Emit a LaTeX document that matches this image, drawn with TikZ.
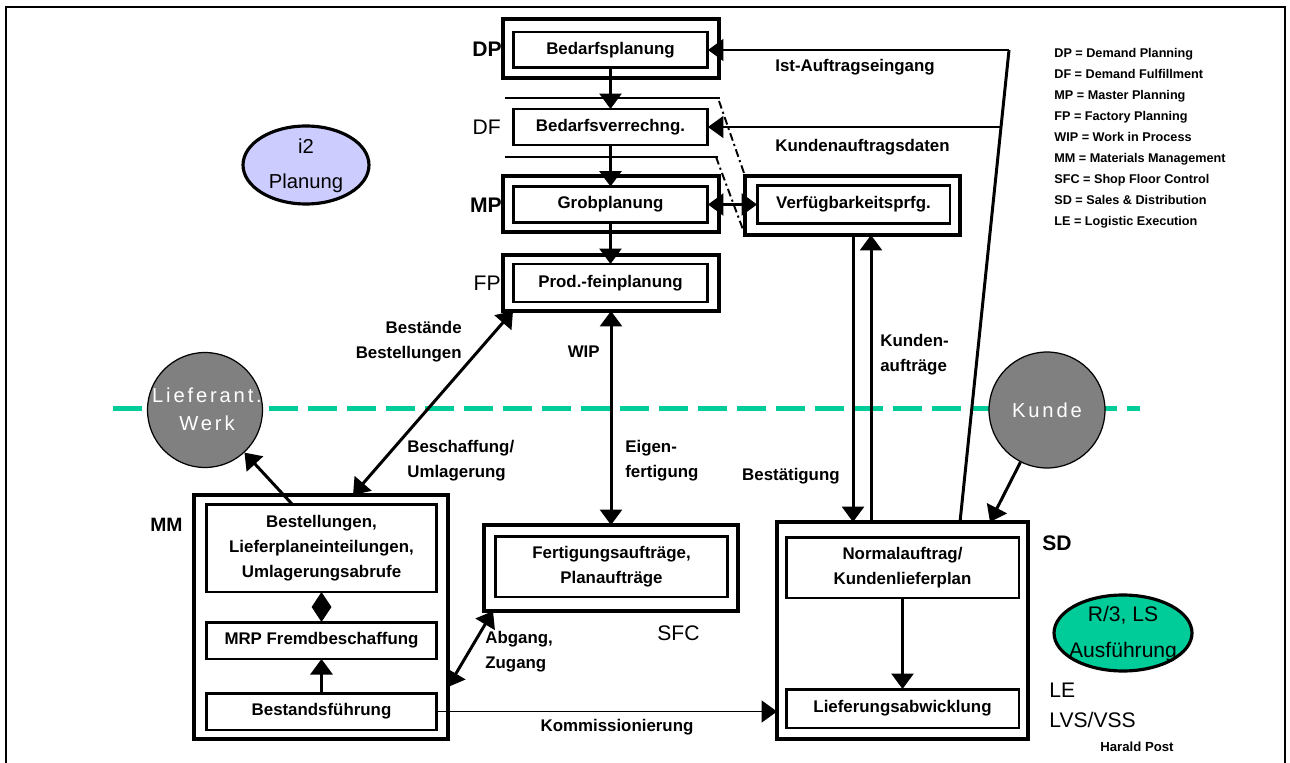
\documentclass[tikz,border=0pt]{standalone}
\usepackage{fontspec}
\setmainfont{Liberation Sans}
\newfontfamily\spacedfont[LetterSpace=14]{Liberation Sans}
\usetikzlibrary{arrows.meta,shapes.geometric,calc}
\definecolor{septeal}{RGB}{0,204,153}
\definecolor{planlav}{RGB}{204,204,255}
\definecolor{partnergray}{RGB}{128,128,128}
\newcommand\bxfont{\fontsize{9.6}{14.2}\selectfont\bfseries}
\newcommand\tagbold{\fontsize{12}{14}\selectfont\bfseries}
\newcommand\tagreg{\fontsize{12}{14}\selectfont}
\newcommand\ovalfont{\fontsize{11.5}{20}\selectfont}
\begin{document}
\begin{tikzpicture}[x=0.02cm,y=-0.02cm,
  outerbox/.style={draw, line width=1.8pt, inner sep=0pt, outer sep=0pt},
  innerbox/.style={draw, line width=1.7pt, inner sep=0pt, outer sep=0pt,
    font=\bxfont, align=center},
  conn/.style={line width=1.7pt},
  thinline/.style={line width=1.1pt},
  tip/.style={-{Triangle[length=0.31cm,width=0.44cm]}},
  tiptwo/.style={{Triangle[length=0.31cm,width=0.44cm]}-{Triangle[length=0.31cm,width=0.44cm]}},
  tipdia/.style={{Triangle[length=0.3cm,width=0.38cm]}-{Triangle[length=0.3cm,width=0.38cm]}},
  dashdot/.style={line width=1.1pt, dash pattern=on 4.5pt off 2pt on 1.2pt off 2pt},
  lbl/.style={inner sep=0pt, font=\bxfont},
  legend/.style={inner sep=0pt, font=\fontsize{7.2}{9}\selectfont\bfseries},
  partner/.style={circle, draw, line width=0.7pt, fill=partnergray, inner sep=0pt},
  partnertext/.style={inner sep=0pt, text=white, align=center,
    font=\spacedfont\fontsize{11.5}{16}\selectfont},
  sysoval/.style={ellipse, draw, line width=1.8pt, inner sep=0pt}
]
\useasboundingbox (0,0) rectangle (1290,763);

% page frame
\draw[line width=1.1pt] (6,763) -- (6,7) -- (1285,7) -- (1285,763);

% system boundary
\draw[septeal, line width=0.1cm, dash pattern=on 0.58cm off 0.2cm] (113,408) -- (1140,408);

% ---------- planning column ----------
\node[outerbox, minimum width=4.32cm, minimum height=1.18cm] (dpo) at (611,48.5) {};
\node[innerbox, minimum width=3.9cm, minimum height=0.72cm] (dp) at (610.5,50) {Bedarfsplanung};

\draw[thinline] (505,98) -- (720,98);
\draw[thinline] (505,157) -- (718,157);
\node[innerbox, minimum width=3.9cm, minimum height=0.72cm] (df) at (610.5,127) {Bedarfsverrechng.};

\node[outerbox, minimum width=4.32cm, minimum height=1.12cm] (mpo) at (611,204) {};
\node[innerbox, minimum width=3.9cm, minimum height=0.72cm] (mp) at (610.5,204.5) {Grobplanung};

\node[outerbox, minimum width=4.32cm, minimum height=1.12cm] (fpo) at (611,283) {};
\node[innerbox, minimum width=3.9cm, minimum height=0.76cm] (fp) at (610.5,283) {Prod.-feinplanung};

\node[outerbox, minimum width=4.3cm, minimum height=1.18cm] (vo) at (852.5,205.5) {};
\node[innerbox, minimum width=3.86cm, minimum height=0.76cm] (vf) at (853.5,204.5) {Verfügbarkeitsprfg.};

\draw[dashdot] (719,101) -- (vo.north west);
\draw[dashdot] (716,157) -- (vo.south west);

% ---------- execution boxes ----------
\node[outerbox, minimum width=5.08cm, minimum height=4.88cm] (mmo) at (321,617) {};
\node[innerbox, minimum width=4.62cm, minimum height=1.76cm] (best) at (321.5,548)
  {Bestellungen,\\Lieferplaneinteilungen,\\Umlagerungsabrufe};
\node[innerbox, minimum width=4.62cm, minimum height=0.74cm] (mrp) at (321.5,640.5) {MRP Fremdbeschaffung};
\node[innerbox, minimum width=4.62cm, minimum height=0.74cm] (bf) at (321.5,711.5) {Bestandsführung};

\node[outerbox, minimum width=5.08cm, minimum height=1.72cm] (sfco) at (611,568) {};
\node[innerbox, minimum width=4.66cm, minimum height=1.22cm] (sfc) at (611.5,566.5)
  {Fertigungsaufträge,\\Planaufträge};

\node[outerbox, minimum width=5.02cm, minimum height=4.34cm] (so) at (902.5,630.5) {};
\node[innerbox, minimum width=4.66cm, minimum height=1.22cm] (na) at (902.5,567.5)
  {Normalauftrag/\\Kundenlieferplan};
\node[innerbox, minimum width=4.66cm, minimum height=0.78cm] (la) at (902.5,708.5) {Lieferungsabwicklung};

% ---------- partners and systems ----------
\node[partner, minimum size=2.3cm] (lw) at (205,410) {};
\node[partnertext] (lwt) at (207,409) {Lieferant.\\Werk};
\node[partner, minimum size=2.32cm] (kd) at (1047,410) {};
\node[partnertext] (kdt) at (1047,410) {Kunde};

\node[sysoval, fill=planlav, minimum width=2.52cm, minimum height=1.56cm] (i2) at (306,165) {};
\node[inner sep=0pt, align=center, font=\ovalfont] (i2t) at (306,166) {i2\\Planung};
\node[sysoval, fill=septeal, minimum width=2.76cm, minimum height=1.52cm] (r3) at (1123,633) {};
\node[inner sep=0pt, align=center, font=\fontsize{12}{20}\selectfont] (r3t) at (1123,634) {R/3, LS\\Ausführung};

% ---------- connectors ----------
\draw[conn, tip] (dp.south) -- (df.north);
\draw[conn, tip] (df.south) -- (mp.north);
\draw[conn, tip] (mp.south) -- (fp.north);
\draw[conn, tiptwo] (mp.east) -- (mp.east -| vf.west);

\coordinate (iaTop) at (1009,50);
\coordinate (iaBot) at (960,522);
\draw[thinline, tip] (iaTop) -- (dp.east);
\draw[conn] (iaTop) -- (iaBot);
\coordinate (kaEnd) at (1001,127);
\draw[thinline, tip] (kaEnd) -- (df.east);

\coordinate (vl) at ([xshift=0.01cm]vo.south);
\coordinate (vr) at ([xshift=0.37cm]vo.south);
\draw[conn, tip] (vl) -- (vl |- so.north);
\draw[conn, tip] (vr |- so.north) -- (vr);

\draw[conn, tiptwo] (fpo.south) -- (sfco.north);
\coordinate (mmTop) at ([xshift=0.64cm]mmo.north);
\coordinate (fpCorner) at ([xshift=0.2cm]fpo.south west);
\draw[conn, tiptwo] (mmTop) -- (fpCorner);
\coordinate (mmSide) at ([yshift=-1.4cm]mmo.east);
\coordinate (sfcCorner) at ([xshift=0.18cm]sfco.south west);
\draw[conn, tiptwo] (mmSide) -- (sfcCorner);

\draw[thinline, tip] (bf.east) -- (bf.east -| so.west);
\draw[conn, tip] (na.south) -- (la.north);
\draw[conn, tip] (bf.north) -- (mrp.south);
\draw[conn, tipdia] (best.south) -- (mrp.north);

\coordinate (bestTop) at ([xshift=-0.59cm]best.north);
\draw[conn, tip] (bestTop) -- (lw);
\coordinate (sdTop) at ([xshift=1.75cm]so.north);
\draw[conn, tip] (kd) -- (sdTop);

% ---------- labels ----------
\node[inner sep=0pt, anchor=east, font=\tagbold] (tDP) at (502,49) {DP};
\node[inner sep=0pt, anchor=east, font=\tagreg] (tDF) at (501,127) {DF};
\node[inner sep=0pt, anchor=east, font=\tagbold] (tMP) at (502,205) {MP};
\node[inner sep=0pt, anchor=east, font=\tagreg] (tFP) at (501,283) {FP};
\node[inner sep=0pt, anchor=west, font=\fontsize{11}{13}\selectfont\bfseries] (tMM) at (150,525) {MM};
\node[inner sep=0pt, anchor=west, font=\tagreg] (tSFC) at (657,633) {SFC};
\node[inner sep=0pt, anchor=west, font=\tagbold] (tSD) at (1042,543) {SD};
\node[inner sep=0pt, anchor=west, font=\tagreg] (tLE) at (1049,690) {LE};
\node[inner sep=0pt, anchor=west, font=\tagreg] (tLVS) at (1049,720) {LVS/VSS};

\node[lbl, anchor=west] (lIst) at (775,67) {Ist-Auftragseingang};
\node[lbl, anchor=west] (lKad) at (775,147) {Kundenauftragsdaten};
\node[lbl, anchor=east, align=right] (lBest) at (462,342) {Bestände\\Bestellungen};
\node[lbl, anchor=west, align=left] (lBesch) at (407,461) {Beschaffung/\\Umlagerung};
\node[lbl, anchor=east] (lWip) at (600,352) {WIP};
\node[lbl, anchor=west, align=left] (lEigen) at (625,461) {Eigen-\\fertigung};
\node[lbl, anchor=west, align=left] (lKa) at (880,355) {Kunden-\\aufträge};
\node[lbl, anchor=east] (lBst) at (840,476) {Bestätigung};
\node[lbl, anchor=west, align=left] (lAbg) at (485,652) {Abgang,\\Zugang};
\node[lbl] (lKomm) at (617,727) {Kommissionierung};

\foreach \t [count=\i from 0] in {DP = Demand Planning, DF = Demand Fulfillment,
  MP = Master Planning, FP = Factory Planning, WIP = Work in Process,
  MM = Materials Management, SFC = Shop Floor Control,
  SD = Sales \& Distribution, LE = Logistic Execution}
  \node[legend, anchor=base west] (leg\i) at (1054,{57.5+21*\i}) {\t};

\node[inner sep=0pt, anchor=west, font=\fontsize{7.5}{9}\selectfont\bfseries] (author) at (1100,747) {Harald Post};
\end{tikzpicture}
\end{document}
